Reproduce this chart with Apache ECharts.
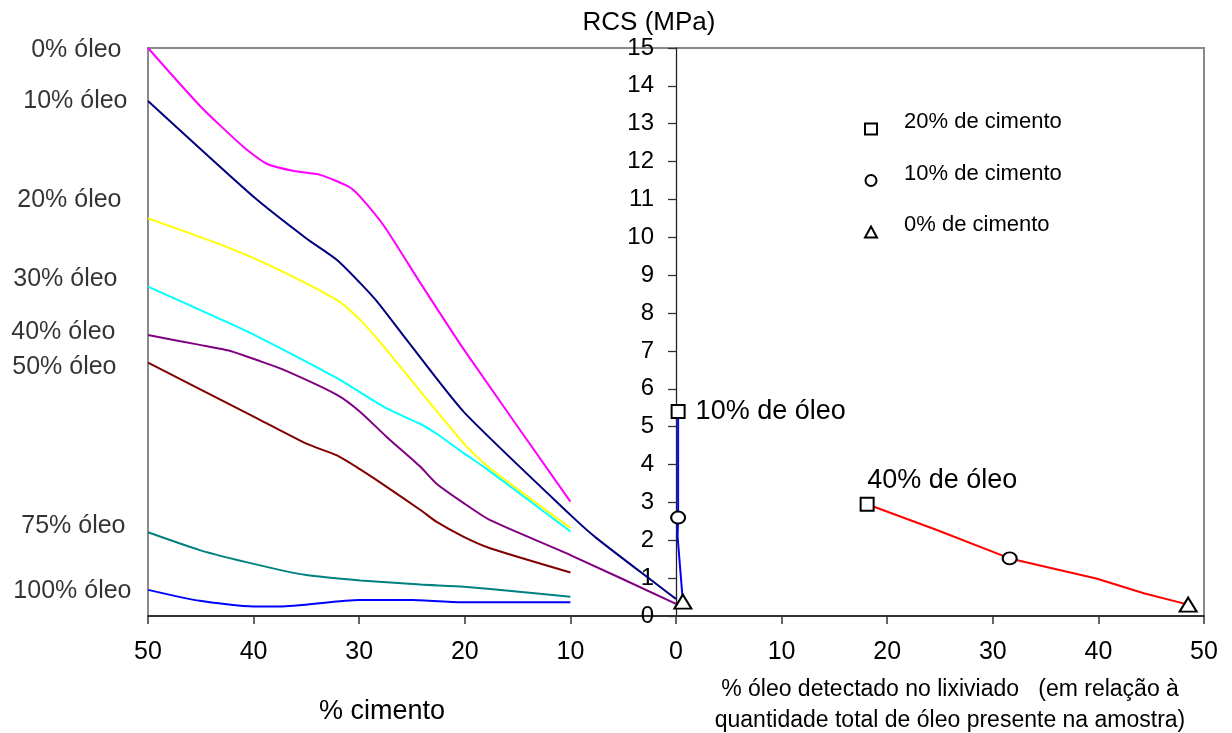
<!DOCTYPE html>
<html>
<head>
<meta charset="utf-8">
<script src="https://cdn.jsdelivr.net/npm/echarts@6/dist/echarts.min.js"></script>
<style>html,body{margin:0;padding:0;background:#fff}#c{width:1232px;height:733px}</style>
</head>
<body>
<div id="c"></div>
<script>
// ---------- DATA ----------
// left panel: [% cimento, RCS (MPa)] for each oil content
const oilNames = ['0% óleo','10% óleo','20% óleo','30% óleo','40% óleo','50% óleo','75% óleo','100% óleo'];
const oil0   = [[50,15.0],[45,13.45],[41,12.4],[38.8,11.95],[36.2,11.75],[33.7,11.65],[31,11.34],[29.9,11.07],[27.6,10.28],[24.2,8.79],[20,7.0],[10,3.02]];
const oil10  = [[50,13.6],[40,11.07],[35,9.97],[32.1,9.4],[29.9,8.79],[28.3,8.3],[25.5,7.29],[20.1,5.39],[10,2.67],[7.5,2.05],[0,0.45]];
const oil20  = [[50,10.5],[42.2,9.71],[37.2,9.09],[32.1,8.34],[29.9,7.82],[28.2,7.29],[26.1,6.58],[20.1,4.56],[17.8,3.94],[10,2.32]];
const oil30  = [[50,8.7],[43,7.82],[39.9,7.42],[32.1,6.28],[27.4,5.48],[24.2,5.07],[22.7,4.82],[20.1,4.3],[17.8,3.86],[10,2.23]];
const oil40  = [[50,7.42],[45.1,7.16],[42.2,7.0],[39.7,6.76],[37.3,6.52],[32.1,5.84],[29.9,5.39],[27.4,4.73],[24.2,3.94],[22.7,3.5],[20.1,2.98],[17.6,2.53],[10,1.61],[0,0.32]];
const oil50  = [[50,6.69],[39.9,5.25],[35,4.55],[32.1,4.24],[29.9,3.87],[27.4,3.41],[24.2,2.8],[22.7,2.49],[20.1,2.09],[17.6,1.79],[10,1.15]];
const oil75  = [[50,2.21],[45.1,1.74],[39.9,1.37],[35,1.08],[29.9,0.94],[24.2,0.83],[20.1,0.77],[15.1,0.65],[10,0.51]];
const oil100 = [[50,0.69],[45.1,0.4],[40,0.25],[37.5,0.25],[30,0.42],[25,0.42],[20,0.36],[10,0.36]];

// right panel: [% óleo detectado no lixiviado, RCS (MPa), % cimento of the sample (null = curve point only)]
const leachNames = ['10% de óleo','40% de óleo'];
const leach10oil = [[0.2,5.4,20],[0.2,2.6,10],[0.15,2.1,null],[0.65,0.38,0]];
const leach40oil = [[18.1,2.95,20],[24.7,2.27,null],[31.6,1.52,10],[39.8,0.99,null],[44.3,0.6,null],[48.5,0.3,0]];

const cementGroups = [20,10,0];
const cementNames = ['20% de cimento','10% de cimento','0% de cimento'];

const xMin = -50, xMax = 50, xTickStep = 10;
const yMax = 15;

// ---------- STYLE ----------
const FF = '"Liberation Sans", Arial, Helvetica, sans-serif';
const gridLeft = 148, gridRight = 28;
const plotW = 1232 - gridLeft - gridRight;
const yAxisShift = plotW * (0 - xMin) / (xMax - xMin); // y axis sits at x = 0
const oilSeries = [oil0, oil10, oil20, oil30, oil40, oil50, oil75, oil100];
const oilColors = ['#FF00FF','#000080','#FFFF00','#00FFFF','#800080','#800000','#008080','#0000FF'];
const oilLabelOffsets = [[-26,2],[-20,0],[-26,-18],[-30,-7],[-32,-3],[-31,4],[-22,-6],[-16,1]];
const leachLines = [leach10oil, leach40oil];
const leachColors = ['#0000FF','#FF0000'];
const leachLabelStyles = [{position:'right', distance:10}, {position:'top', align:'left', distance:3}];
const cementSymbols = ['rect','circle','triangle'];
const cementSymbolSizes = [13,[14,12],[17,14]];

const series = [];
oilSeries.forEach((s, i) => {
  series.push({
    type:'line', name: oilNames[i], data: s.map(p => [-p[0], p[1]]),
    showSymbol:false, symbol:'none', smooth:0.2,
    lineStyle:{color: oilColors[i], width:2}, itemStyle:{color: oilColors[i]}, z:2, silent:true
  });
});
// text labels at the start (50 % cimento) of each curve
series.push({
  type:'scatter', name:'labels', symbolSize:1, silent:true,
  itemStyle:{color:'rgba(0,0,0,0)'},
  data: oilSeries.map((s, i) => ({
    value:[-s[0][0], s[0][1]], name: oilNames[i],
    label:{show:true, position:'left', distance:0, offset: oilLabelOffsets[i], formatter:'{b}',
           fontSize:25, color:'#000', fontFamily:FF}
  })),
  z:3
});
leachLines.forEach((l, i) => {
  series.push({
    type:'line', name: leachNames[i], data: l.map(p => [p[0], p[1]]),
    showSymbol:false, symbol:'none', lineStyle:{color: leachColors[i], width:2}, z:2, silent:true
  });
});
cementGroups.forEach((cg, gi) => {
  const data = [];
  leachLines.forEach((l, li) => l.forEach((p, pi) => {
    if (p[2] === cg) {
      const item = {value:[p[0], p[1]]};
      if (pi === 0) item.label = Object.assign({show:true, formatter: leachNames[li], fontSize:27, color:'#000', fontFamily:FF}, leachLabelStyles[li]);
      data.push(item);
    }
  }));
  series.push({
    type:'scatter', name: cementNames[gi], symbol: cementSymbols[gi], symbolSize: cementSymbolSizes[gi],
    itemStyle:{color:'#fff', borderColor:'#000', borderWidth:2, opacity:1}, data, z:5
  });
});

const chart = echarts.init(document.getElementById('c'), null, {renderer:'canvas'});
chart.setOption({
  animation:false,
  backgroundColor:'#fff',
  textStyle:{fontFamily:FF, color:'#000'},
  grid:{left:gridLeft, right:gridRight, top:48, bottom:117, show:true, borderColor:'#8a8a8a', borderWidth:2, backgroundColor:'transparent'},
  legend:{
    data: cementNames, orient:'vertical', left:859, top:106,
    itemWidth:12, itemHeight:11, itemGap:27, selectedMode:false,
    formatter: name => '{t|' + name + '}',
    textStyle:{fontSize:22, color:'#000', fontFamily:FF,
      rich:{t:{fontSize:22, color:'#000', fontFamily:FF, padding:[0,0,14,22]}}}
  },
  xAxis:{
    type:'value', min:xMin, max:xMax, interval:xTickStep,
    axisLine:{onZero:true, lineStyle:{color:'#333', width:2}},
    axisTick:{show:true, length:8, lineStyle:{color:'#333', width:1.5}},
    axisLabel:{fontSize:25, color:'#000', margin:24, fontFamily:FF, formatter: v => String(Math.abs(v))},
    splitLine:{show:false}
  },
  yAxis:{
    type:'value', min:0, max:yMax, interval:1, position:'left', offset:-yAxisShift,
    name:'RCS (MPa)', nameLocation:'end', nameGap:6,
    nameTextStyle:{fontSize:26, color:'#000', fontFamily:FF, align:'center', padding:[0,54,0,0]},
    axisLine:{onZero:false, lineStyle:{color:'#222', width:1.3}},
    axisTick:{show:true, length:8, lineStyle:{color:'#333', width:1.3}},
    axisLabel:{fontSize:24, color:'#000', margin:22, fontFamily:FF},
    splitLine:{show:false}
  },
  graphic:[
    {type:'text', x:382, y:712, style:{text:'% cimento', font:'27px ' + FF, fill:'#000', align:'center', verticalAlign:'middle', textAlign:'center', textVerticalAlign:'middle'}},
    {type:'text', x:950, y:705, style:{text:'% óleo detectado no lixiviado   (em relação à\nquantidade total de óleo presente na amostra)', font:'23px ' + FF, fill:'#000', align:'center', verticalAlign:'middle', textAlign:'center', textVerticalAlign:'middle', lineHeight:31}}
  ],
  series
});
</script>
</body>
</html>
